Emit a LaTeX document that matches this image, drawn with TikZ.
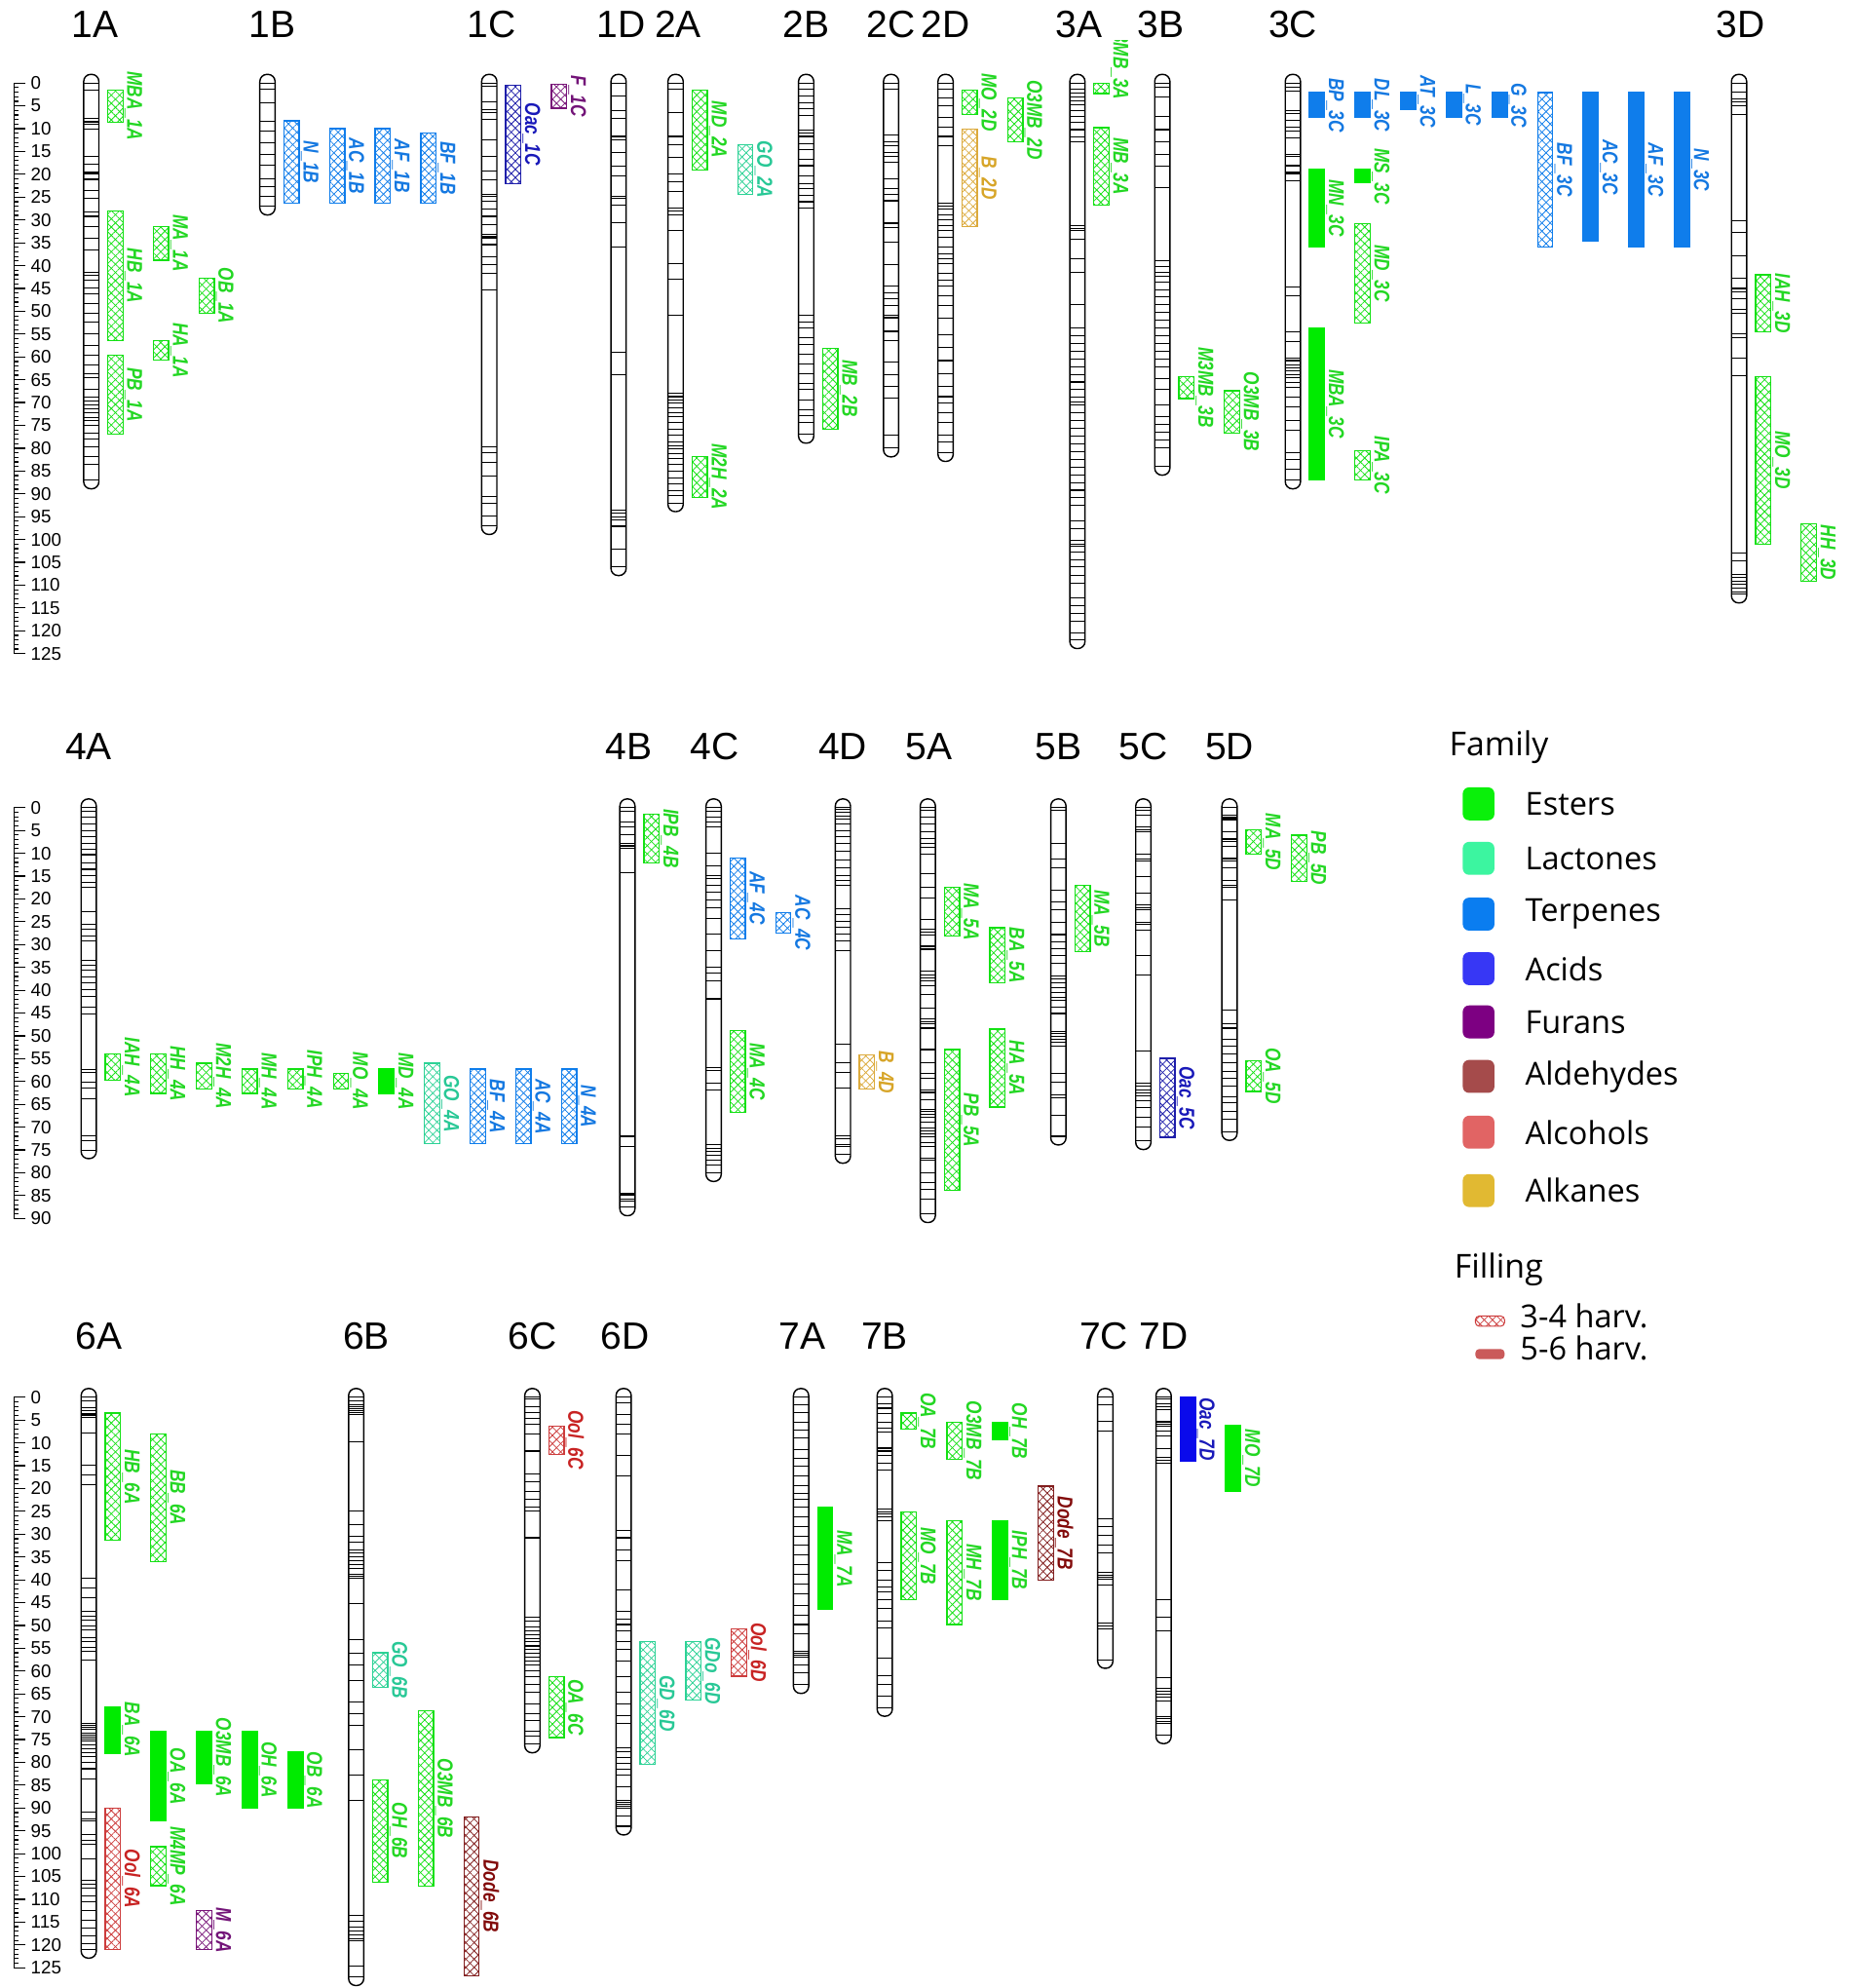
\documentclass[tikz,border=0pt]{standalone}
\usepackage{fontspec}
\setmainfont{Liberation Sans}
\newfontfamily\legf{Open Sans}
\usetikzlibrary{patterns.meta}
% box colours
\definecolor{bEst}{RGB}{20,225,20}
\definecolor{bEstS}{RGB}{0,235,0}
\definecolor{bLac}{RGB}{45,210,150}
\definecolor{bTer}{RGB}{15,125,235}
\definecolor{bAcd}{RGB}{30,30,170}
\definecolor{bAcdS}{RGB}{10,10,235}
\definecolor{bFur}{RGB}{120,20,120}
\definecolor{bAld}{RGB}{130,30,30}
\definecolor{bAlc}{RGB}{205,60,60}
\definecolor{bAlk}{RGB}{220,170,60}
% label colours
\definecolor{lEst}{RGB}{35,215,35}
\definecolor{lLac}{RGB}{40,200,150}
\definecolor{lTer}{RGB}{20,120,225}
\definecolor{lAcd}{RGB}{25,25,185}
\definecolor{lFur}{RGB}{115,20,120}
\definecolor{lAld}{RGB}{130,10,10}
\definecolor{lAlc}{RGB}{200,35,35}
\definecolor{lAlk}{RGB}{215,165,40}
% legend colours
\definecolor{gEst}{RGB}{10,240,10}
\definecolor{gLac}{RGB}{60,245,160}
\definecolor{gTer}{RGB}{10,125,240}
\definecolor{gAcd}{RGB}{55,55,245}
\definecolor{gFur}{RGB}{125,0,130}
\definecolor{gAld}{RGB}{165,75,75}
\definecolor{gAlc}{RGB}{225,100,100}
\definecolor{gAlk}{RGB}{225,185,50}
\def\RA{65.5}\def\RB{637}\def\RC{1102}
\tikzset{
  chro/.style={draw=black,line width=0.55pt,rounded corners=2.8pt},
  mk/.style={draw=black,line width=0.4pt},
  scl/.style={line width=0.45pt},
  scnum/.style={anchor=west,inner sep=0pt,font=\fontsize{7.2}{8}\selectfont},
  ttl/.style={inner sep=0pt,font=\fontsize{15}{17}\selectfont},
  qlab/.style={rotate=-90,inner sep=0pt,font=\fontsize{8.5}{9}\selectfont\bfseries\itshape},
  hq/.style={draw=#1,line width=0.5pt,
    pattern={Lines[angle=45,distance=2.3pt,line width=0.3pt]},pattern color=#1,
    postaction={pattern={Lines[angle=-45,distance=2.3pt,line width=0.3pt]},pattern color=#1}},
  sq/.style={draw=#1,fill=#1,line width=0.5pt},
  legt/.style={anchor=west,inner sep=0pt,font=\legf\fontsize{13}{15}\selectfont},
  legi/.style={anchor=west,inner sep=0pt,font=\legf\fontsize{12.5}{14}\selectfont},
}
\newcommand\nar[1]{\scalebox{0.78}[1]{#1}}
% chromosome: name, x, y0, length, markers
\newcommand\chr[5]{%
  \draw[chro] ({#2-6},{-(#3-1.9*3.6)}) rectangle ({#2+6},{-(#3+(#4+1.9)*3.6)});
  \coordinate (#1) at (#2,{-#3});
  \foreach \m in {0,#5,#4} \draw[mk] ({#2-6},{-(#3+\m*3.6)}) -- ({#2+6},{-(#3+\m*3.6)});
}
% qtl: name, chrom x, column, y0, start, end, box style, label colour, text
\newcommand\qtl[9]{%
  \path[#7] ({#2+13+36*#3},{-(#4+#5*3.6)}) rectangle ({#2+25+36*#3},{-(#4+#6*3.6)});
  \node[qlab,text=#8,anchor=south] (#1) at ({#2+26+36*#3},{-(#4+(#5+#6)*1.8)}) {\nar{#9}};
}
% scale bar: name, y0, max
\newcommand\scalebar[3]{%
  \draw[scl] (11,{-#2}) -- (11,{-(#2+#3*3.6)});
  \foreach \i in {0,...,#3} \draw[scl] (11,{-(#2+\i*3.6)}) -- (14.5,{-(#2+\i*3.6)});
  \foreach \i in {0,5,...,#3} {
    \draw[scl] (11,{-(#2+\i*3.6)}) -- (20,{-(#2+\i*3.6)});
    \node[scnum] (#1-\i) at (24,{-(#2+\i*3.6)}) {\i};
  }
}
\begin{document}
\begin{tikzpicture}[x=0.5pt,y=0.5pt]
\useasboundingbox[fill=white] (0,0) rectangle (1462,-1568);

% ---------------- scales
\scalebar{sa}{\RA}{125}
\scalebar{sb}{\RB}{90}
\scalebar{sc}{\RC}{125}

% ---------------- titles
\foreach \t/\x in {1A/75,1B/215,1C/388,1D/490,2A/535,2B/636,2C/703,2D/746,3A/851,3B/916,3C/1020,3D/1373}
  \node[ttl] (t\t) at (\x,-19) {\t};
\foreach \t/\x in {4A/70,4B/496,4C/564,4D/665,5A/733,5B/835,5C/902,5D/970}
  \node[ttl] (t\t) at (\x,-589) {\t};
\foreach \t/\x in {6A/78,6B/289,6C/420,6D/493,7A/633,7B/698,7C/871,7D/918}
  \node[ttl] (t\t) at (\x,-1054) {\t};

% ---------------- row 1 chromosomes
\chr{c1A}{72}{\RA}{87}{1.6,7.8,8.3,8.7,9.1,10,16.1,17.8,19.6,20,20.9,21.3,23.5,25.3,28.3,29.2,31.4,34,36.6,41.4,42.2,43.1,44.9,46.2,48.3,50.5,52.3,54.9,57.5,59.7,61.8,63.6,64.5,67.1,68.8,69.7,70.6,71.4,72.3,73.2,74,74.9,76.7,77.9,79.7,81.9,83.6}
\chr{c1B}{211}{\RA}{27}{1.3,4.4,8.3,10.5,13.1,15.7,17.9,20.9,22.6,24.8}
\chr{c1C}{386}{\RA}{97}{0.7,4.2,5.8,6.4,8,12.4,16,19.3,21.2,24.5,24.8,25.9,27.7,29.2,31,33.2,33.6,33.9,35.4,38,39.8,41.6,45.3,79.6,81,83.2,86.1,90.5,92,94.9}
\chr{c1D}{488}{\RA}{106}{2.8,6,7.8,11.7,12.4,15.3,18.2,20.3,24.9,25.3,26.7,30.6,35.9,59,64,93.6,94.3,95,95.7,97.1,102.1}
\chr{c2A}{533}{\RA}{92}{1.4,6.4,11.7,13.5,16.3,19.9,21.7,23.8,27.4,28.1,28.8,32.4,39.5,43,50.9,68,68.7,69.4,70.1,71.2,72.3,73,74.4,75.8,77.2,78.6,79.4,80.1,81.1,82.2,83.6,85,86.5,87.9,89.3,90.4}
\chr{c2B}{636}{\RA}{77}{1.4,2.8,4.3,5.7,7.1,10.3,11,11.7,13.2,14.6,16.7,18.1,20.3,22,23.1,24.6,26,27.4,50.9,52.3,53.7,55.8,57.3,59.4,61.5,63.7,65.8,67.2,69.4,71.5,72.9,74.4}
\chr{c2C}{703}{\RA}{80}{1.4,11.4,12.8,13.8,15.3,16,17.4,20.9,23.1,24.5,25.6,25.9,30.6,30.9,31.7,34.9,39.8,44.4,45.9,47.3,48.7,50.9,51.2,51.6,54.4,56.5,61.2,64,66.5,69,77.2}
\chr{c2D}{746}{\RA}{81}{1.4,3.2,5,7.5,9.6,11.7,13.8,26.3,27,27.7,28.8,29.9,31.3,32.4,33.8,35.9,37.4,38.4,39.5,41.6,43.1,44.5,46.6,48.7,51.6,55.1,58,60.8,63.7,66.5,68.7,70.1,72.2,74.4,77.2,78.6}
\chr{c3A}{850}{\RA}{122}{1.4,2.2,3,3.9,4.7,6,7.3,8.5,10.2,11.9,12.8,31.3,31.8,32.2,34.3,38.5,41.5,48.6,53.7,55.4,57.1,58.8,60.5,62.2,63.9,65.5,67.2,68.9,69.8,70.6,72.3,74,75.7,77.4,79.1,80.7,82.4,84.1,85.8,87.5,89.2,90.9,92.6,95.9,97.6,100.2,101,101.4,102.7,104.4,106,107.8,109.5,112.8,114.5,116.2,117.9,120.4}
\chr{c3B}{917}{\RA}{84}{0.9,3,7.3,10.2,12.8,15.7,18.2,22.9,38.9,40.2,41.5,42.3,43.6,45.3,46.9,48.6,50.3,52,53.7,55.4,57.1,58.8,60.5,62.2,64.7,67.2,70.6,73.1,74.8,76.5,78.2,79.9}
\chr{c3C}{1020}{\RA}{87}{1,1.7,6,6.7,8.1,9.6,10.6,12,15.6,16,18.1,19.6,19.9,21.4,44.6,46.7,54.6,56.7,60.3,60.6,61,61.7,62.4,63.1,63.9,64.6,65.6,66.7,68.9,71,73.9,76,81,82.4,84.6}
\chr{c3D}{1372}{\RA}{112}{1.9,3.4,4.2,5,6.9,30.2,32.8,37.8,42.7,45,45.8,47.3,49.6,50.4,55,55.7,60.3,64.1,103,104.6,107.6,108.4,109.2,109.9,110.7,111.5}

% ---------------- row 1 QTLs
\qtl{MBA1A}{72}{0}{\RA}{1.5}{8.6}{hq=bEst}{lEst}{MBA\_1A}
\qtl{HB1A}{72}{0}{\RA}{28}{56.4}{hq=bEst}{lEst}{HB\_1A}
\qtl{PB1A}{72}{0}{\RA}{59.7}{76.9}{hq=bEst}{lEst}{PB\_1A}
\qtl{MA1A}{72}{1}{\RA}{31.4}{38.8}{hq=bEst}{lEst}{MA\_1A}
\qtl{OB1A}{72}{2}{\RA}{42.7}{50.5}{hq=bEst}{lEst}{OB\_1A}
\qtl{HA1A}{72}{1}{\RA}{56.4}{60.7}{hq=bEst}{lEst}{HA\_1A}
\qtl{N1B}{211}{0}{\RA}{8.3}{26.3}{hq=bTer}{lTer}{N\_1B}
\qtl{AC1B}{211}{1}{\RA}{10}{26.3}{hq=bTer}{lTer}{AC\_1B}
\qtl{AF1B}{211}{2}{\RA}{10}{26.3}{hq=bTer}{lTer}{AF\_1B}
\qtl{BF1B}{211}{3}{\RA}{11}{26.3}{hq=bTer}{lTer}{BF\_1B}
\qtl{Oac1C}{386}{0}{\RA}{0.5}{22}{hq=bAcd}{lAcd}{Oac\_1C}
\qtl{F1C}{386}{1}{\RA}{0.3}{5.5}{hq=bFur}{lFur}{F\_1C}
\qtl{MD2A}{533}{0}{\RA}{1.5}{19}{hq=bEst}{lEst}{MD\_2A}
\qtl{GO2A}{533}{1}{\RA}{13.5}{24.4}{hq=bLac}{lLac}{GO\_2A}
\qtl{M2H2A}{533}{0}{\RA}{81.8}{90.8}{hq=bEst}{lEst}{M2H\_2A}
\qtl{MB2B}{636}{0}{\RA}{58.1}{75.8}{hq=bEst}{lEst}{MB\_2B}
\qtl{MO2D}{746}{0}{\RA}{1.5}{6.9}{hq=bEst}{lEst}{MO\_2D}
\qtl{B2D}{746}{0}{\RA}{10.1}{31.5}{hq=bAlk}{lAlk}{B\_2D}
\qtl{O3MB2D}{746}{1}{\RA}{3.3}{12.9}{hq=bEst}{lEst}{O3MB\_2D}
\path[hq=bEst] (863,{-(\RA)}) rectangle (875,{-(\RA+2.3*3.6)});
\begin{scope}
  \clip (840,-32) rectangle (900,-120);
  \node[qlab,text=lEst,anchor=south] (M3MB3A) at (876,-47) {\nar{M3MB\_3A}};
\end{scope}
\qtl{MB3A}{850}{0}{\RA}{9.8}{26.7}{hq=bEst}{lEst}{MB\_3A}
\qtl{M3MB3B}{917}{0}{\RA}{64.3}{69.1}{hq=bEst}{lEst}{M3MB\_3B}
\qtl{O3MB3B}{917}{1}{\RA}{67.4}{76.7}{hq=bEst}{lEst}{O3MB\_3B}
\qtl{BP3C}{1020}{0}{\RA}{2.1}{7.6}{sq=bTer}{lTer}{BP\_3C}
\qtl{DL3C}{1020}{1}{\RA}{2.1}{7.6}{sq=bTer}{lTer}{DL\_3C}
\qtl{AT3C}{1020}{2}{\RA}{2.1}{5.9}{sq=bTer}{lTer}{AT\_3C}
\qtl{L3C}{1020}{3}{\RA}{2.1}{7.6}{sq=bTer}{lTer}{L\_3C}
\qtl{G3C}{1020}{4}{\RA}{2.1}{7.6}{sq=bTer}{lTer}{G\_3C}
\qtl{BF3C}{1020}{5}{\RA}{2.1}{35.9}{hq=bTer}{lTer}{BF\_3C}
\qtl{AC3C}{1020}{6}{\RA}{2.1}{34.7}{sq=bTer}{lTer}{AC\_3C}
\qtl{AF3C}{1020}{7}{\RA}{2.1}{35.9}{sq=bTer}{lTer}{AF\_3C}
\qtl{N3C}{1020}{8}{\RA}{2.1}{35.9}{sq=bTer}{lTer}{N\_3C}
\qtl{MN3C}{1020}{0}{\RA}{18.9}{35.9}{sq=bEstS}{lEst}{MN\_3C}
\qtl{MS3C}{1020}{1}{\RA}{18.9}{21.9}{sq=bEstS}{lEst}{MS\_3C}
\qtl{MD3C}{1020}{1}{\RA}{30.8}{52.6}{hq=bEst}{lEst}{MD\_3C}
\qtl{MBA3C}{1020}{0}{\RA}{53.7}{86.9}{sq=bEstS}{lEst}{MBA\_3C}
\qtl{IPA3C}{1020}{1}{\RA}{80.5}{86.9}{hq=bEst}{lEst}{IPA\_3C}
\qtl{IAH3D}{1372}{0}{\RA}{42}{54.5}{hq=bEst}{lEst}{IAH\_3D}
\qtl{MO3D}{1372}{0}{\RA}{64.3}{101}{hq=bEst}{lEst}{MO\_3D}
\qtl{HH3D}{1372}{1}{\RA}{96.6}{109.2}{hq=bEst}{lEst}{HH\_3D}

% ---------------- row 2 chromosomes
\chr{c4A}{70}{\RB}{75}{0.7,2.1,3.6,5,6.4,7.8,9.2,10.3,12.1,13.5,14.9,16.4,17.4,22.8,25.6,26.7,28.1,29.2,33.4,34.5,35.6,37,38.4,39.8,41.3,43.7,45.2,57.3,58,60.1,61.5,63.7,71.8,72.9}
\chr{c4B}{495}{\RB}{87.5}{0.7,3.2,4.3,6,7.8,8.2,8.5,8.9,14.2,71.8,72.2,74.3,84.6,85,85.7,86.1}
\chr{c4C}{563}{\RB}{80}{0.7,2.1,3.2,4.3,10,12.8,14.9,15.6,17.1,18.5,20.3,22,24.2,27.7,31.3,34.9,36.3,38,41.9,56.9,57.6,60.4,61.9,73.9,74.7,75.4,76.1,77.2,78.2}
\chr{c4D}{665}{\RB}{76}{0.4,1.1,1.8,2.5,3.6,5,6.4,7.8,9.6,11.4,13.2,14.9,16,17.1,22.1,23.5,24.9,26.3,27.7,29.2,31.3,51.9,55.8,58,61.5,71.8,72.5,73.9,74.3}
\chr{c5A}{732}{\RB}{89}{0.6,2.1,3.5,5.3,6.7,7.8,8.8,10.2,14.5,17.4,19.9,24.5,26.6,27.3,28,30.2,30.5,30.9,31.2,35.9,36.6,37.3,38,39.1,40.9,44,46.2,46.9,47.3,48.3,53,55.8,58.3,59.4,61.8,62.2,62.6,64,66.1,66.5,67.2,67.9,69,70.1,70.8,71.5,72.2,73.3,74.3,76.8,77.2,80,82.2,83.6,85.7}
\chr{c5B}{835}{\RB}{72}{0.6,7.8,11.3,13.1,18.1,20.6,22.3,25.2,27.7,28,29.5,30.9,32.3,34.1,36.9,37.6,38.4,39.4,40.5,41.6,42.3,43.7,45.1,49,49.4,50.1,50.8,51.5,52.2,58.3,60.1,62.9,63.6,67.5}
\chr{c5C}{902}{\RB}{73}{0.6,1.7,4.2,4.9,5.3,10.2,11.3,11.7,15.2,18.8,21.3,22,22.3,25.2,25.5,26.9,32.3,36.6,53.3,60.4,61.1,61.8,62.5,63.2,64.3,65.7,67.9,70}
\chr{c5D}{970}{\RB}{71}{1.7,2.1,2.4,2.8,5.3,6.7,7,7.4,8.5,11,11.3,11.7,13.1,15.9,17,17.4,20.2,44.4,47.3,48.3,50.8,52.2,54,55.8,57.9,59.4,61.1,63.3,64.7,66.5,68.3}

% ---------------- row 2 QTLs
\qtl{IAH4A}{70}{0}{\RB}{54}{59.7}{hq=bEst}{lEst}{IAH\_4A}
\qtl{HH4A}{70}{1}{\RB}{54}{62.6}{hq=bEst}{lEst}{HH\_4A}
\qtl{M2H4A}{70}{2}{\RB}{56}{61.7}{hq=bEst}{lEst}{M2H\_4A}
\qtl{MH4A}{70}{3}{\RB}{57.3}{62.6}{hq=bEst}{lEst}{MH\_4A}
\qtl{IPH4A}{70}{4}{\RB}{57.3}{61.7}{hq=bEst}{lEst}{IPH\_4A}
\qtl{MO4A}{70}{5}{\RB}{58.2}{61.7}{hq=bEst}{lEst}{MO\_4A}
\qtl{MD4A}{70}{6}{\RB}{57.3}{62.6}{sq=bEstS}{lEst}{MD\_4A}
\qtl{GO4A}{70}{7}{\RB}{56}{73.6}{hq=bLac}{lLac}{GO\_4A}
\qtl{BF4A}{70}{8}{\RB}{57.3}{73.6}{hq=bTer}{lTer}{BF\_4A}
\qtl{AC4A}{70}{9}{\RB}{57.3}{73.6}{hq=bTer}{lTer}{AC\_4A}
\qtl{N4A}{70}{10}{\RB}{57.3}{73.6}{hq=bTer}{lTer}{N\_4A}
\qtl{IPB4B}{495}{0}{\RB}{1.4}{12.1}{hq=bEst}{lEst}{IPB\_4B}
\qtl{AF4C}{563}{0}{\RB}{11}{28.7}{hq=bTer}{lTer}{AF\_4C}
\qtl{AC4C}{563}{1}{\RB}{23}{27.5}{hq=bTer}{lTer}{AC\_4C}
\qtl{MA4C}{563}{0}{\RB}{48.9}{66.7}{hq=bEst}{lEst}{MA\_4C}
\qtl{B4D}{665}{0}{\RB}{54.2}{61.7}{hq=bAlk}{lAlk}{B\_4D}
\qtl{MA5A}{732}{0}{\RB}{17.5}{28.2}{hq=bEst}{lEst}{MA\_5A}
\qtl{BA5A}{732}{1}{\RB}{26.3}{38.4}{hq=bEst}{lEst}{BA\_5A}
\qtl{HA5A}{732}{1}{\RB}{48.5}{65.6}{hq=bEst}{lEst}{HA\_5A}
\qtl{PB5A}{732}{0}{\RB}{53}{83.9}{hq=bEst}{lEst}{PB\_5A}
\qtl{MA5B}{835}{0}{\RB}{17}{31.6}{hq=bEst}{lEst}{MA\_5B}
\qtl{Oac5C}{902}{0}{\RB}{54.9}{72.2}{hq=bAcd}{lAcd}{Oac\_5C}
\qtl{MA5D}{970}{0}{\RB}{4.9}{10.2}{hq=bEst}{lEst}{MA\_5D}
\qtl{PB5D}{970}{1}{\RB}{6}{16.1}{hq=bEst}{lEst}{PB\_5D}
\qtl{OA5D}{970}{0}{\RB}{55.4}{62.2}{hq=bEst}{lEst}{OA\_5D}

% ---------------- row 3 chromosomes
\chr{c6A}{70}{\RC}{121}{0.9,2.2,3,3.5,3.9,4.4,7.8,14.8,17,19.2,39.6,41.8,44,47,47.9,48.8,50.1,50.9,52.7,53.6,54.9,55.7,57.5,71.4,71.9,72.3,72.7,73.6,74,74.5,74.9,75.3,76.2,77.1,77.9,78.8,80.1,81.4,83.6,91,92.4,92.8,95.8,97.1,98,101.1,105.8,106.7,107.6,109.3,110.6,112.4,114.5,116.3,118,119.8}
\chr{c6B}{281}{\RC}{127}{0.8,1.7,2.1,2.5,3,3.4,3.8,9.7,24.9,27.9,30.4,31.7,33.4,34.2,35,35.9,36.7,37.6,38.9,39.3,39.7,45.2,53.2,56.2,58.7,62.1,66.7,69.3,71.8,77.3,82.8,88.3,113.6,114.9,116.1,117,117.8,118.7,119.1,124.6}
\chr{c6C}{420}{\RC}{76}{0.4,2.1,3.4,4.6,5.9,8,11.8,16.9,18.6,20.7,22.4,24.1,24.9,30.8,48.1,49,50.3,51.1,52,52.8,53.6,54.5,55.3,56.2,57,57.9,58.7,60,61.2,62.9,64.6,67.1,69.3,70.9,73.1,74.3}
\chr{c6D}{492}{\RC}{94}{1.3,3.8,5.9,8,12.7,17.3,29.1,30.8,33.4,35.9,42.2,46.9,48.6,49.8,51.1,53.6,55.3,57.9,61.2,64.6,67.1,69.7,71.4,76.9,77.7,79,80.3,81.5,82.8,85.3,88.3,88.7,89.1,89.6,90,91.7}
\chr{c7A}{632}{\RC}{63}{1.7,3.4,5.5,7.2,8.9,11.4,13.5,15.2,17.3,19.4,21.1,22.4,24.1,26.2,28.3,30.4,32.5,34.6,36.7,38.9,41,43.1,45.6,47.7,49.8,51.9,55.7,56.2,56.6,57,58.7,60.4}
\chr{c7B}{698}{\RC}{68}{1.4,2.4,3.5,5.6,6.7,7.7,11,11.3,11.7,12,12.7,14.5,15.9,24.5,25.2,25.5,26.3,27,36.2,38,40.1,41.6,42.6,44.4,46.2,49,50.5,57.2,61.1,62.9,65.4}
\chr{c7C}{872}{\RC}{57.5}{1.7,5.3,7.4,26.6,28.4,30.2,32.3,34.1,38.4,39.1,39.4,39.9,41.2,49.4,50.1,50.8}
\chr{c7D}{918}{\RC}{74}{0.3,1.4,2.1,2.8,5.3,5.6,6,6.3,7.4,8.5,11.3,13.1,13.8,14.5,44.4,48.3,51.2,61.5,63.7,64.4,65.1,65.8,66.5,70,70.4,71.1,71.5}

% ---------------- row 3 QTLs
\qtl{HB6A}{70}{0}{\RC}{3.5}{31.4}{hq=bEst}{lEst}{HB\_6A}
\qtl{BB6A}{70}{1}{\RC}{8}{36}{hq=bEst}{lEst}{BB\_6A}
\qtl{BA6A}{70}{0}{\RC}{67.8}{78}{sq=bEstS}{lEst}{BA\_6A}
\qtl{OA6A}{70}{1}{\RC}{73.3}{92.8}{sq=bEstS}{lEst}{OA\_6A}
\qtl{O3MB6A}{70}{2}{\RC}{73.3}{84.6}{sq=bEstS}{lEst}{O3MB\_6A}
\qtl{OH6A}{70}{3}{\RC}{73.3}{90}{sq=bEstS}{lEst}{OH\_6A}
\qtl{OB6A}{70}{4}{\RC}{77.8}{90}{sq=bEstS}{lEst}{OB\_6A}
\qtl{Ool6A}{70}{0}{\RC}{90}{121}{hq=bAlc}{lAlc}{Ool\_6A}
\qtl{M4MP6A}{70}{1}{\RC}{98.5}{107}{hq=bEst}{lEst}{M4MP\_6A}
\qtl{M6A}{70}{2}{\RC}{112.5}{121}{hq=bFur}{lFur}{M\_6A}
\qtl{GO6B}{281}{0}{\RC}{56}{63.5}{hq=bLac}{lLac}{GO\_6B}
\qtl{OH6B}{281}{0}{\RC}{83.8}{106.2}{hq=bEst}{lEst}{OH\_6B}
\qtl{O3MB6B}{281}{1}{\RC}{68.7}{107.1}{hq=bEst}{lEst}{O3MB\_6B}
\qtl{Dode6B}{281}{2}{\RC}{92}{126.7}{hq=bAld}{lAld}{Dode\_6B}
\qtl{Ool6C}{420}{0}{\RC}{6.3}{12.5}{hq=bAlc}{lAlc}{Ool\_6C}
\qtl{OA6C}{420}{0}{\RC}{61.2}{74.6}{hq=bEst}{lEst}{OA\_6C}
\qtl{GD6D}{492}{0}{\RC}{53.6}{80.5}{hq=bLac}{lLac}{GD\_6D}
\qtl{GDo6D}{492}{1}{\RC}{53.6}{66.3}{hq=bLac}{lLac}{GDo\_6D}
\qtl{Ool6D}{492}{2}{\RC}{50.7}{61.1}{hq=bAlc}{lAlc}{Ool\_6D}
\qtl{MA7A}{632}{0}{\RC}{24.2}{46.5}{sq=bEstS}{lEst}{MA\_7A}
\qtl{OA7B}{698}{0}{\RC}{3.5}{7}{hq=bEst}{lEst}{OA\_7B}
\qtl{O3MB7B}{698}{1}{\RC}{5.5}{13.6}{hq=bEst}{lEst}{O3MB\_7B}
\qtl{OH7B}{698}{2}{\RC}{5.5}{9.3}{sq=bEstS}{lEst}{OH\_7B}
\qtl{MO7B}{698}{0}{\RC}{25.2}{44.4}{hq=bEst}{lEst}{MO\_7B}
\qtl{MH7B}{698}{1}{\RC}{27}{49.8}{hq=bEst}{lEst}{MH\_7B}
\qtl{IPH7B}{698}{2}{\RC}{27}{44.4}{sq=bEstS}{lEst}{IPH\_7B}
\qtl{Dode7B}{698}{3}{\RC}{19.5}{40.1}{hq=bAld}{lAld}{Dode\_7B}
\qtl{Oac7D}{918}{0}{\RC}{0}{14}{sq=bAcdS}{lAcd}{Oac\_7D}
\qtl{MO7D}{918}{1}{\RC}{6.2}{20.6}{sq=bEstS}{lEst}{MO\_7D}

% ---------------- legend
\node[legt] (fam) at (1143,-589) {Family};
\foreach \c/\t/\y in {gEst/Esters/634,gLac/Lactones/677,gTer/Terpenes/721,gAcd/Acids/764,gFur/Furans/806,gAld/Aldehydes/849,gAlc/Alcohols/893,gAlk/Alkanes/939}{
  \path[fill=\c,rounded corners=2.5pt] (1154,{-(\y-13)}) rectangle (1179,{-(\y+13)});
  \node[legi] (lg\t) at (1203,-\y) {\t};
}
\node[legt] (fil) at (1147,-1001) {Filling};
\path[hq=bAlc,rounded corners=1.5pt,line width=0.4pt] (1164,-1038) rectangle (1187,-1046);
\node[legi] (h34) at (1199,-1038) {3-4 harv.};
\path[fill=gAlc!90!black,rounded corners=1.5pt] (1164,-1064) rectangle (1187,-1072);
\node[legi] (h56) at (1199,-1063) {5-6 harv.};
\end{tikzpicture}
\end{document}
